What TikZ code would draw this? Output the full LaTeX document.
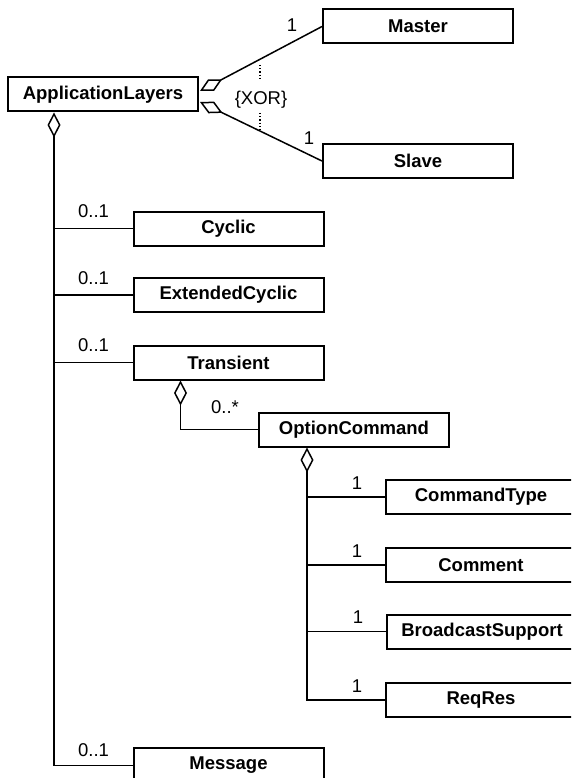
\documentclass[tikz,border=0pt]{standalone}
\usepackage{fontspec}
\setmainfont{Liberation Sans}
\usetikzlibrary{arrows.meta,calc}
\begin{document}
\begin{tikzpicture}[x=1pt,y=-1pt,
  cls/.style={draw, line width=2pt, minimum width=190pt, minimum height=34pt, inner sep=0pt,
    font=\bfseries\fontsize{18.5}{21}\selectfont},
  mult/.style={inner sep=0pt, anchor=base, font=\fontsize{18.5}{21}\selectfont},
  conn/.style={line width=1.5pt},
  agg/.style={conn, {Diamond[open, fill=white, length=25pt, width=13pt, line width=1.5pt]}-},
  xorline/.style={line width=1.2pt, dotted}]
\useasboundingbox (0,0) rectangle (571,778);
\clip (0,0) rectangle (571,778);
% classes
\node[cls] (AL) at (103,94.5) {ApplicationLayers};
\node[cls] (Master) at (418,26.5) {Master};
\node[cls] (Slave) at (418,161) {Slave};
\node[cls] (Cyclic) at (228.5,228.5) {Cyclic};
\node[cls] (ExtCyclic) at (228.5,295) {ExtendedCyclic};
\node[cls] (Transient) at (228.5,362.5) {Transient};
\node[cls] (OptCmd) at (354,429.5) {OptionCommand};
\node[cls] (CmdType) at (481,497) {CommandType};
\node[cls] (Comment) at (481,565) {Comment};
\node[cls] (Broadcast) at (482,631.5) {BroadcastSupport};
\node[cls] (ReqRes) at (481,700) {ReqRes};
\node[cls, minimum height=35pt] (Message) at (228.5,765.5) {Message};
% XOR associations
\coordinate (alup) at ($(AL.east)+(1,-3.5)$);
\coordinate (aldn) at ($(AL.east)+(1,7.5)$);
\draw[agg] (alup) -- (Master.west);
\draw[agg] (aldn) -- (Slave.west);
\node[mult] (mM) at (292,32) {1};
\node[mult] (mS) at (309,145) {1};
\coordinate (x1a) at (260,65);
\coordinate (x1b) at (260,78);
\coordinate (x2a) at (260,113);
\coordinate (x2b) at (260,130);
\draw[xorline] (x1a) -- (x1b);
\draw[xorline] (x2a) -- (x2b);
\node[inner sep=0pt, font=\fontsize{18.5}{21}\selectfont] (xor) at (261,99.5) {\{XOR\}};
% ApplicationLayers trunk
\coordinate (ad) at ($(AL.south west)+(47,0)$);
\draw[agg] (ad) -- (ad |- Message.west) -- (Message.west);
\draw[conn] (ad |- Cyclic.west) -- (Cyclic.west);
\draw[conn] (ad |- ExtCyclic.west) -- (ExtCyclic.west);
\draw[conn] (ad |- Transient.west) -- (Transient.west);
\node[mult] (m1) at ($(Cyclic.west)+(-39,-11)$) {0..1};
\node[mult] (m2) at ($(ExtCyclic.west)+(-39,-11)$) {0..1};
\node[mult] (m3) at ($(Transient.west)+(-39,-11)$) {0..1};
\node[mult] (m4) at ($(Message.west)+(-39,-9)$) {0..1};
% Transient -> OptionCommand
\coordinate (td) at ($(Transient.south west)+(48,0)$);
\draw[agg] (td) -- (td |- OptCmd.west) -- (OptCmd.west);
\node[mult] (m5) at ($(OptCmd.west)+(-33,-16)$) {0..*};
% OptionCommand trunk
\coordinate (od) at ($(OptCmd.south west)+(49,0)$);
\draw[agg] (od) -- (od |- ReqRes.west) -- (ReqRes.west);
\draw[conn] (od |- CmdType.west) -- (CmdType.west);
\draw[conn] (od |- Comment.west) -- (Comment.west);
\draw[conn] (od |- Broadcast.west) -- (Broadcast.west);
\node[mult] (n1) at ($(CmdType.west)+(-28,-8)$) {1};
\node[mult] (n2) at ($(Comment.west)+(-28,-8)$) {1};
\node[mult] (n3) at ($(Broadcast.west)+(-28,-8)$) {1};
\node[mult] (n4) at ($(ReqRes.west)+(-28,-8)$) {1};
\end{tikzpicture}
\end{document}
